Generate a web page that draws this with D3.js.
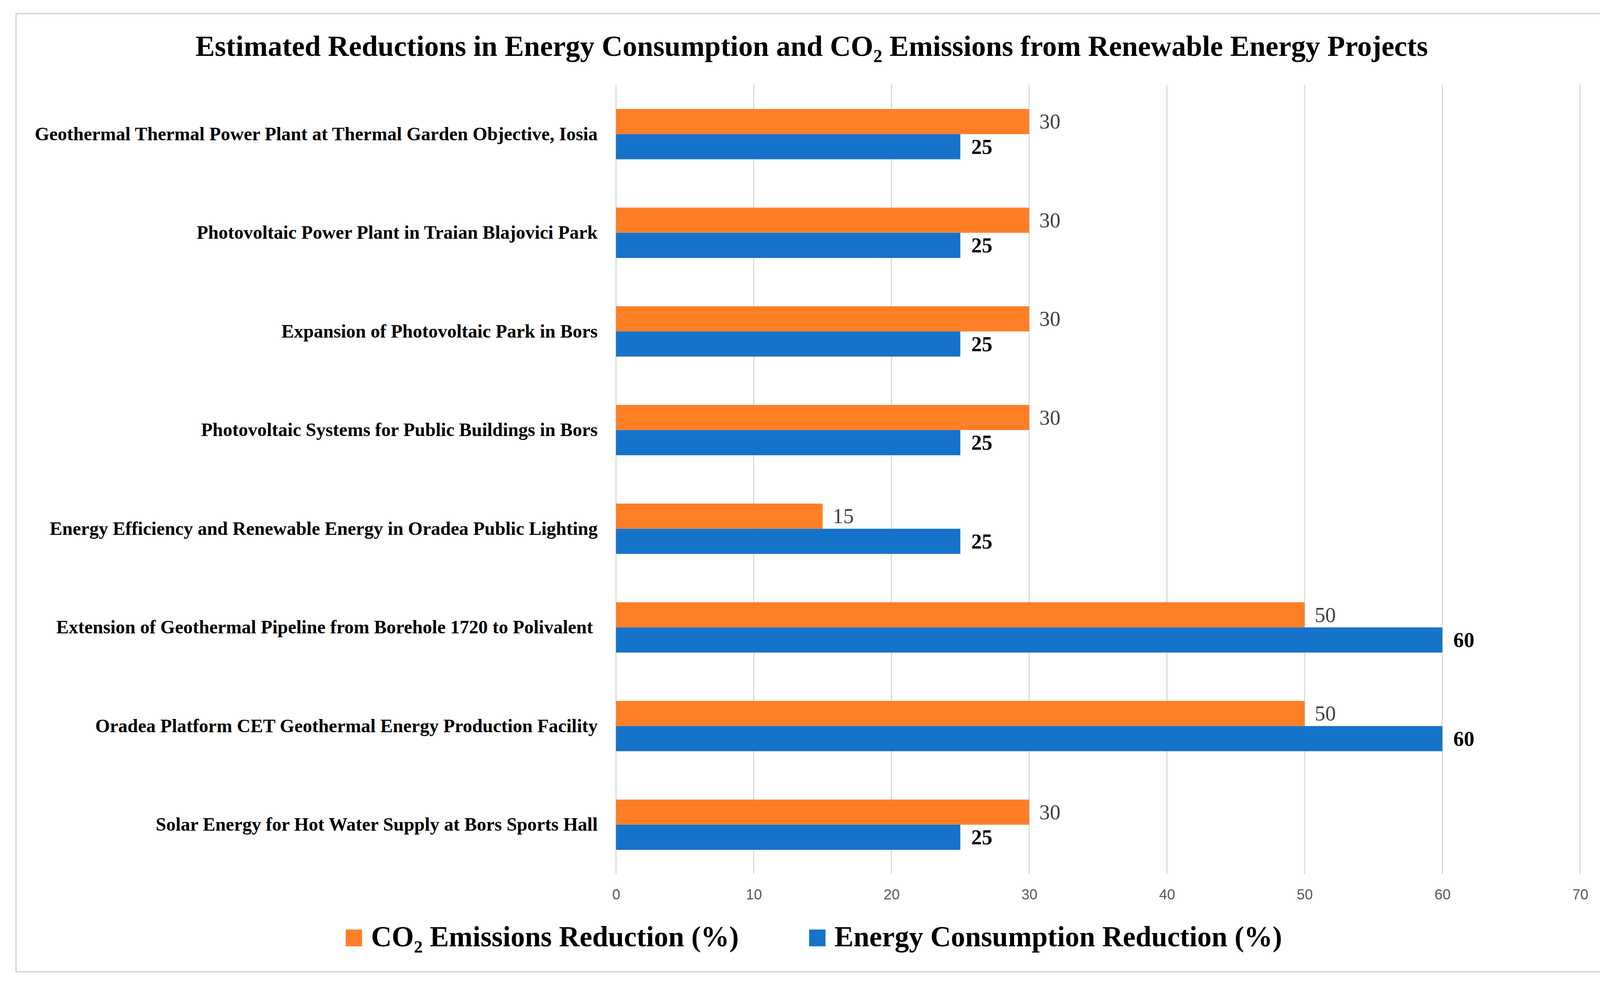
<!DOCTYPE html>
<html>
<head>
<meta charset="utf-8">
<script src="https://cdn.jsdelivr.net/npm/d3@7"></script>
<style>
  body { margin: 0; background: #fff; }
  svg { display: block; }
</style>
</head>
<body>
<div id="chart"></div>
<script>
// chart values
const projects = [
    "Geothermal Thermal Power Plant at Thermal Garden Objective, Iosia",
    "Photovoltaic Power Plant in Traian Blajovici Park",
    "Expansion of Photovoltaic Park in Bors",
    "Photovoltaic Systems for Public Buildings in Bors",
    "Energy Efficiency and Renewable Energy in Oradea Public Lighting",
    "Extension of Geothermal Pipeline from Borehole 1720 to Polivalent ",
    "Oradea Platform CET Geothermal Energy Production Facility",
    "Solar Energy for Hot Water Supply at Bors Sports Hall"
];
const co2Reduction = [30, 30, 30, 30, 15, 50, 50, 30];
const energyReduction = [25, 25, 25, 25, 25, 60, 60, 25];
const xTicks = [0, 10, 20, 30, 40, 50, 60, 70];
const seriesKeys = ["co2", "energy"];
const seriesNames = ["CO|2| Emissions Reduction (%)", "Energy Consumption Reduction (%)"];

const WIDTH = 4143, HEIGHT = 2521;
const plot = {left: 1577, right: 4045, top: 217, bottom: 2237};
const colors = {co2: "#FF7F27", energy: "#1673CA"};
const serif = "'Liberation Serif', 'Times New Roman', serif";

let svg = d3.select("#chart")
    .append("svg")
    .attr("width", WIDTH)
    .attr("height", HEIGHT);

// outer chart frame
svg.append("rect")
    .attr("x", 41).attr("y", 35)
    .attr("width", 4072).attr("height", 2452)
    .attr("fill", "#fff")
    .attr("stroke", "#D9D9D9")
    .attr("stroke-width", 4);

let x = d3.scaleLinear()
    .domain([0, 70])
    .range([plot.left, plot.right]);

let y = d3.scaleBand()
    .domain(projects)
    .range([plot.top, plot.bottom])
    .paddingInner(0.49)
    .paddingOuter(0.245);

let ySub = d3.scaleBand()
    .domain(seriesKeys)
    .range([0, y.bandwidth()]);

// vertical gridlines
svg.append("g")
    .selectAll("line")
    .data(xTicks)
    .enter()
    .append("line")
    .attr("x1", d => x(d)).attr("x2", d => x(d))
    .attr("y1", plot.top).attr("y2", plot.bottom)
    .attr("stroke", "#D9D9D9")
    .attr("stroke-width", 3);

// x axis labels
let xAxis = svg.append("g")
    .attr("transform", `translate(0, ${plot.bottom})`)
    .call(d3.axisBottom(x).tickValues(xTicks).tickSize(0).tickPadding(39));
xAxis.select(".domain").remove();
xAxis.selectAll("text")
    .style("font-family", "'Liberation Sans', Arial, sans-serif")
    .style("font-size", "37px")
    .attr("fill", "#595959");

// category labels
let yAxis = svg.append("g")
    .attr("transform", `translate(${plot.left}, 0)`)
    .call(d3.axisLeft(y).tickSize(0).tickPadding(47));
yAxis.select(".domain").remove();
yAxis.selectAll("text")
    .style("font-family", serif)
    .style("font-weight", "bold")
    .style("font-size", "48px")
    .style("white-space", "pre")
    .attr("fill", "#000");

// bars, grouped per project
let rows = projects.map((p, i) => ({project: p, co2: co2Reduction[i], energy: energyReduction[i]}));

let groups = svg.append("g")
    .selectAll("g")
    .data(rows)
    .enter()
    .append("g")
    .attr("transform", d => `translate(0, ${y(d.project)})`);

groups.selectAll("rect")
    .data(d => seriesKeys.map(k => ({key: k, value: d[k]})))
    .enter()
    .append("rect")
    .attr("x", x(0))
    .attr("y", d => ySub(d.key))
    .attr("width", d => x(d.value) - x(0))
    .attr("height", ySub.bandwidth())
    .attr("fill", d => colors[d.key]);

// value labels
groups.selectAll("text")
    .data(d => seriesKeys.map(k => ({key: k, value: d[k]})))
    .enter()
    .append("text")
    .attr("x", d => x(d.value) + (d.key == "co2" ? 26 : 28))
    .attr("y", d => ySub(d.key) + ySub.bandwidth() / 2)
    .attr("dy", "0.34em")
    .style("font-family", serif)
    .style("font-size", "54px")
    .style("font-weight", d => d.key == "co2" ? "normal" : "bold")
    .attr("fill", d => d.key == "co2" ? "#404040" : "#000")
    .text(d => d.value);

// writes "A|2|B" as text with the middle part subscripted
function richText(sel, str, size) {
    str.split("|").forEach((part, i) => {
        let t = sel.append("tspan").text(part);
        if (i % 2 == 1) {
            t.attr("font-size", size * 0.62).attr("dy", size * 0.22);
        } else if (i > 0) {
            t.attr("dy", -size * 0.22);
        }
    });
}

// title
let title = svg.append("text")
    .attr("x", 2078)
    .attr("y", 143)
    .attr("text-anchor", "middle")
    .style("font-family", serif)
    .style("font-weight", "bold")
    .style("font-size", "74px")
    .attr("fill", "#000");
richText(title, "Estimated Reductions in Energy Consumption and CO|2| Emissions from Renewable Energy Projects", 74);

// legend
let legend = svg.append("g")
    .attr("transform", "translate(885, 2422)");
let lx = 0;
seriesKeys.forEach((k, i) => {
    legend.append("rect")
        .attr("x", lx).attr("y", -43)
        .attr("width", 42).attr("height", 43)
        .attr("fill", colors[k]);
    let t = legend.append("text")
        .attr("x", lx + 65)
        .attr("y", 0)
        .style("font-family", serif)
        .style("font-weight", "bold")
        .style("font-size", "73px")
        .attr("fill", "#000");
    richText(t, seriesNames[i], 73);
    lx += 65 + t.node().getComputedTextLength() + 180;
});
</script>
</body>
</html>
